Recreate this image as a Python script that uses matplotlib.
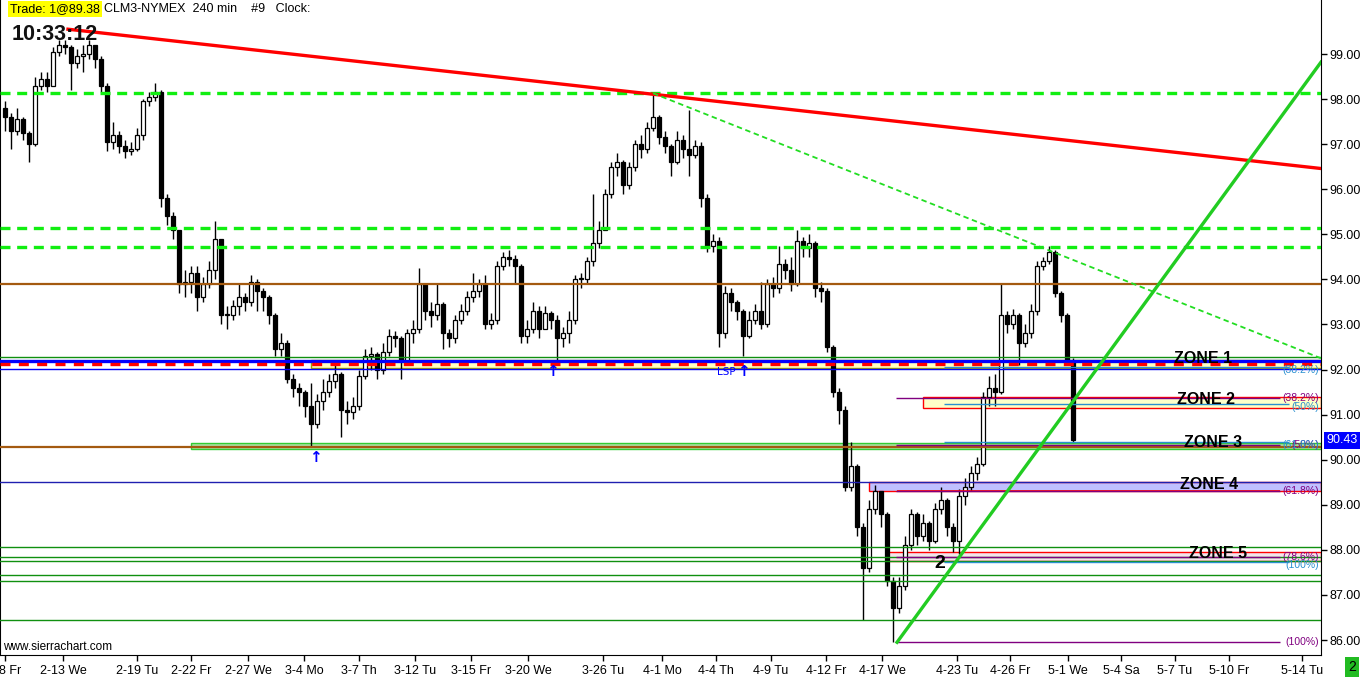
import matplotlib.pyplot as plt
from matplotlib.patches import Rectangle

# 240 min bars (one bar of this list ~ two bars of the original chart)
first_open = 97.8
closes = [97.6, 97.3, 97.55, 97.25, 97.0, 98.3, 98.45, 98.3, 99.05, 99.2,
          99.15, 98.8, 98.95, 99.0, 99.2, 98.9, 98.3, 97.05, 97.2, 96.95,
          96.85, 96.9, 97.2, 97.95, 98.05, 98.15, 95.8, 95.4, 95.1, 93.9,
          93.95, 94.15, 93.6, 93.9, 94.2, 94.9, 93.2, 93.2, 93.4, 93.6,
          93.5, 93.95, 93.75, 93.6, 93.2, 92.45, 92.6, 91.8, 91.6, 91.5,
          91.2, 90.8, 91.3, 91.5, 91.75, 91.9, 91.1, 91.05, 91.2, 91.85,
          92.3, 92.35, 92.0, 92.4, 92.75, 92.7, 92.2, 92.8, 92.9, 93.9,
          93.3, 93.2, 93.45, 92.8, 92.7, 93.1, 93.3, 93.6, 93.75, 93.9,
          93.0, 93.1, 94.3, 94.5, 94.45, 94.3, 92.75, 92.9, 93.3, 92.9,
          93.25, 93.1, 92.7, 92.8, 93.1, 94.0, 94.0, 94.4, 94.8, 95.1,
          95.9, 96.5, 96.6, 96.1, 96.5, 97.0, 96.9, 97.35, 97.6, 97.15,
          96.95, 96.6, 97.1, 96.9, 96.75, 96.95, 95.8, 94.75, 94.85, 92.8,
          93.7, 93.5, 93.3, 92.75, 93.1, 93.3, 93.0, 93.9, 93.8, 94.35,
          94.2, 93.9, 94.85, 94.7, 94.8, 93.8, 93.75, 92.5, 91.5, 91.1,
          89.4, 89.85, 88.5, 87.6, 88.9, 89.3, 88.8, 87.3, 86.7, 87.2,
          88.1, 88.8, 88.3, 88.6, 88.2, 88.9, 89.1, 88.5, 88.2, 89.2,
          89.4, 89.7, 89.9, 91.4, 91.6, 91.5, 93.2, 93.0, 93.2, 92.6,
          92.8, 93.3, 94.3, 94.4, 94.6, 93.7, 93.2, 92.2, 90.43]
highs = [97.95, 97.7, 97.8, 97.6, 97.3, 98.5, 98.6, 98.6, 99.15, 99.3,
         99.3, 99.2, 99.1, 99.2, 99.3, 99.2, 98.95, 98.35, 97.5, 97.3,
         97.1, 97.05, 97.35, 98.0, 98.15, 98.35, 98.2, 95.9, 95.5, 95.1,
         94.2, 94.3, 94.3, 94.05, 94.4, 95.3, 94.9, 93.4, 93.55, 93.9,
         93.7, 94.1, 94.0, 93.8, 93.65, 93.25, 92.8, 92.65, 91.9, 91.7,
         91.55, 91.7, 91.45, 91.8, 91.9, 92.2, 91.95, 91.3, 91.4, 92.0,
         92.45, 92.5, 92.4, 92.6, 92.9, 92.85, 92.75, 92.9, 93.1, 94.25,
         93.9, 93.5, 93.9, 93.5, 92.9, 93.2, 93.45, 93.75, 94.15, 94.0,
         94.1, 93.25, 94.4, 94.6, 94.65, 94.55, 94.35, 93.1, 93.5, 93.4,
         93.4, 93.3, 93.2, 92.95, 93.3, 94.1, 94.15, 94.5, 95.9, 95.3,
         96.0, 96.6, 96.8, 96.65, 96.6, 97.1, 97.2, 97.5, 98.1, 97.65,
         97.3, 97.0, 97.3, 97.2, 97.75, 97.1, 97.05, 95.9, 95.0, 94.95,
         93.85, 93.8, 93.55, 93.35, 93.3, 93.45, 93.95, 94.0, 94.05, 94.75,
         94.45, 94.5, 95.1, 94.95, 95.0, 94.85, 93.95, 93.8, 92.55, 91.6,
         91.2, 90.4, 89.9, 88.6, 89.1, 89.45, 89.3, 88.85, 87.4, 87.4,
         88.3, 88.9, 88.85, 88.8, 88.65, 89.05, 89.4, 89.15, 88.6, 89.35,
         89.6, 89.85, 90.05, 91.5, 91.85, 91.9, 93.9, 93.3, 93.35, 93.25,
         93.0, 93.45, 94.4, 94.5, 94.75, 94.65, 93.75, 93.25, 92.25]
lows = [97.3, 96.9, 97.2, 97.1, 96.6, 96.95, 98.2, 98.15, 98.3, 98.95,
        99.0, 98.2, 98.7, 98.6, 98.9, 98.7, 98.15, 96.85, 96.9, 96.8,
        96.7, 96.75, 96.85, 97.1, 97.85, 97.95, 95.6, 95.2, 94.9, 93.7,
        93.6, 93.7, 93.3, 93.5, 93.8, 94.0, 93.0, 92.9, 93.1, 93.2,
        93.3, 93.4, 93.3, 93.3, 93.0, 92.3, 92.3, 91.7, 91.4, 91.2,
        90.95, 90.3, 90.7, 91.1, 91.4, 91.6, 90.5, 90.8, 90.9, 91.1,
        91.8, 92.0, 91.8, 91.9, 92.3, 92.5, 91.8, 92.1, 92.6, 92.8,
        93.1, 92.95, 93.1, 92.45, 92.5, 92.6, 93.0, 93.2, 93.5, 93.6,
        92.9, 92.9, 93.0, 94.2, 94.3, 93.9, 92.6, 92.6, 92.8, 92.7,
        92.9, 92.9, 92.2, 92.5, 92.6, 93.0, 93.8, 93.9, 94.3, 94.7,
        95.1, 95.8, 96.3, 95.9, 96.0, 96.4, 96.7, 96.8, 97.3, 97.0,
        96.8, 96.3, 96.55, 96.7, 96.3, 96.7, 95.6, 94.6, 94.6, 92.5,
        92.7, 93.3, 93.1, 92.3, 92.7, 93.0, 92.9, 92.95, 93.6, 93.7,
        94.0, 93.75, 93.85, 94.5, 94.5, 93.6, 93.5, 92.4, 91.4, 90.8,
        89.3, 89.3, 88.3, 86.45, 87.5, 88.8, 88.5, 87.2, 85.95, 86.6,
        87.1, 88.0, 88.1, 88.2, 88.0, 88.15, 88.8, 88.3, 87.95, 87.9,
        89.0, 89.3, 89.55, 89.85, 91.2, 91.2, 91.45, 92.8, 92.9, 92.1,
        92.5, 92.7, 93.2, 94.2, 94.35, 93.6, 93.05, 92.1, 90.4]

date_labels = ["2-8 Fr", "2-13 We", "2-19 Tu", "2-22 Fr", "2-27 We", "3-4 Mo",
               "3-7 Th", "3-12 Tu", "3-15 Fr", "3-20 We", "3-26 Tu", "4-1 Mo",
               "4-4 Th", "4-9 Tu", "4-12 Fr", "4-17 We", "4-23 Tu", "4-26 Fr",
               "5-1 We", "5-4 Sa", "5-7 Tu", "5-10 Fr", "5-14 Tu"]
date_pos = [0, 9.67, 22, 31, 40.5, 49.83, 59, 68.33, 77.67, 87.17, 99.67,
            109.5, 118.5, 127.67, 136.83, 146.17, 158.67, 167.5, 177.17,
            186, 195, 204, 216.17]
price_ticks = [86, 87, 88, 89, 90, 91, 92, 93, 94, 95, 96, 97, 98, 99]

# levels drawn on the chart
res_dashed = [98.13, 95.13, 94.71]
brown_levels = [93.9, 90.29]
zone1 = (92.03, 92.21)
zone2 = (91.15, 91.39)
zone3 = (90.24, 90.37)
zone4 = (89.31, 89.51)
zone5 = (87.76, 87.95)
green_thin = [92.27, 88.07, 87.85, 87.76, 87.44, 87.30, 86.44]
fib_purple = [91.36, 90.33, 89.30, 87.84, 85.95]
fib_purple_txt = ["(38.2%)", "(50%)", "(61.8%)", "(78.6%)", "(100%)"]
fib_blue = [92.06, 91.24, 90.39, 87.72]
fib_blue_txt = ["(38.2%)", "(50%)", "(61.8%)", "(100%)"]

# trend lines: (x0, p0, x1, p1)
red_trend = (10.5, 99.55, 219.33, 96.46)
green_dash_trend = (108, 98.13, 219.33, 92.25)
green_up_trend = (148.67, 85.95, 219.33, 98.82)

last_price = 90.43

W, H = 1362, 677
fig = plt.figure(figsize=(W / 100, H / 100), dpi=100)
ax = fig.add_axes([0, 22 / H, 1321 / W, 655 / H])
XMIN, XMAX = -0.83, 219.33
ax.set_xlim(XMIN, XMAX)
ax.set_ylim(85.668, 100.198)

# zone bands
ax.add_patch(Rectangle((51, zone1[0]), XMAX - 51, zone1[1] - zone1[0],
                       facecolor="#ffffc0", edgecolor="#a0a000", lw=1, zorder=1))
ax.add_patch(Rectangle((31, zone3[0]), XMAX - 31, zone3[1] - zone3[0],
                       facecolor="#a8e0a0", edgecolor="#33cc33", lw=1, zorder=1))
ax.add_patch(Rectangle((153, zone2[0]), XMAX - 153, zone2[1] - zone2[0],
                       facecolor="#ffffc8", edgecolor="#ff0000", lw=1, zorder=1))
ax.add_patch(Rectangle((144, zone4[0]), XMAX - 144, zone4[1] - zone4[0],
                       facecolor="#c0c0ff", edgecolor="#ff0000", lw=1, zorder=1))
ax.add_patch(Rectangle((147.2, zone5[0]), XMAX - 147.2, zone5[1] - zone5[0],
                       facecolor="#f4e4ec", edgecolor="#ff0000", lw=1, zorder=1))

# candles
opens = [first_open] + closes[:-1]
xs = list(range(len(closes)))
ax.vlines(xs, lows, highs, color="black", lw=1, zorder=2)
for x, o, c in zip(xs, opens, closes):
    lo, hi = min(o, c), max(o, c)
    if hi - lo < 0.03:
        hi = lo + 0.03
    face = "white" if c >= o else "black"
    ax.add_patch(Rectangle((x - 0.3, lo), 0.6, hi - lo, facecolor=face,
                           edgecolor="black", lw=0.9, zorder=2))

# horizontal levels
for p in green_thin:
    ax.axhline(p, color="#109010", lw=1, zorder=3)
ax.axhline(zone4[1], color="#2020b0", lw=1, zorder=3)
for p in brown_levels:
    ax.axhline(p, color="#a45a10", lw=1.6, zorder=3)
ax.axhline(zone1[1] - 0.01, color="#0000ff", lw=2.4, zorder=3)
ax.axhline(zone1[0] - 0.01, color="#0000ff", lw=1, zorder=3)
ax.axhline((zone1[0] + zone1[1]) / 2, color="#ff0000", lw=2.4,
           dashes=(3, 2.5), zorder=3)
for p in res_dashed:
    ax.axhline(p, color="#11ee11", lw=2.4, dashes=(3, 2), zorder=3)
ax.hlines(zone4[0] - 0.01, 148.67, 212.5, color="#ff0000", lw=1.2, zorder=3)

for p, t in zip(fib_purple, fib_purple_txt):
    ax.hlines(p, 148.5, 212.5, color="#800080", lw=1, zorder=3)
    ax.text(219.0, p, t, color="#800080", fontsize=7.5, ha="right",
            va="center", family="Liberation Sans", zorder=4)
for p, t in zip(fib_blue, fib_blue_txt):
    ax.hlines(p, 156.5, 214, color="#2a90d0", lw=1, zorder=3)
    ax.text(219.0, p - 0.06, t, color="#2a90d0", fontsize=7.5, ha="right",
            va="center", family="Liberation Sans", zorder=4)

# trend lines
ax.plot(red_trend[0::2], red_trend[1::2], color="#ff0000", lw=2.4, zorder=3)
ax.plot(green_dash_trend[0::2], green_dash_trend[1::2], color="#22dd22",
        lw=1.3, dashes=(3, 2), zorder=3)
ax.plot(green_up_trend[0::2], green_up_trend[1::2], color="#22cc22",
        lw=2.4, zorder=3)

# zone labels
zone_txt = ["ZONE 1", "ZONE 2", "ZONE 3", "ZONE 4", "ZONE 5"]
zone_xy = [(199.7, 92.24), (200.2, 91.33), (201.3, 90.39), (200.7, 89.46),
           (202.2, 87.93)]
for t, (x, y) in zip(zone_txt, zone_xy):
    ax.text(x, y, t, fontsize=11.5, fontweight="bold", family="Liberation Sans",
            ha="center", va="center", zorder=5)

ax.text(155.8, 87.7, "2", fontsize=14, fontweight="bold",
        family="Liberation Sans", ha="center", va="center", zorder=5)
for x, y in [(51.7, 90.05), (91.3, 91.95), (123, 91.95)]:
    ax.text(x, y, "\u2191", color="#0000ff", fontsize=11, fontweight="bold",
            ha="center", va="center", zorder=5)
ax.text(120.3, 91.95, "LSP", color="#0000ff", fontsize=7.5, ha="center",
        va="center", zorder=5)

# axes
ax.spines["top"].set_visible(False)
ax.spines["left"].set_linewidth(1.5)
ax.yaxis.tick_right()
ax.set_yticks(price_ticks)
ax.set_yticklabels([f"{p:.2f}" for p in price_ticks], family="Liberation Sans",
                   fontsize=9)
ax.set_xticks(date_pos)
ax.set_xticklabels(date_labels, family="Liberation Sans", fontsize=9)
ax.tick_params(axis="both", length=4, width=1, direction="out", pad=2)
ax.tick_params(axis="x", pad=3)

ax.text(1.004, (last_price - 85.668) / (100.198 - 85.668), f"{last_price:.2f}",
        transform=ax.transAxes, color="white", fontsize=9,
        family="Liberation Sans", ha="left", va="center",
        bbox=dict(boxstyle="square,pad=0.2", fc="#0000ff", ec="none"), zorder=6)

# header texts
fig.text(10 / W, 1 - 9 / H, "Trade: 1@89.38", fontsize=9,
         family="Liberation Sans", va="center",
         bbox=dict(boxstyle="square,pad=0.15", fc="#ffff00", ec="none"))
fig.text(104 / W, 1 - 9 / H, "CLM3-NYMEX  240 min    #9   Clock:", fontsize=9,
         family="Liberation Sans", va="center")
fig.text(12 / W, 1 - 34 / H, "10:33:12", fontsize=15.5, fontweight="bold",
         family="Liberation Sans", va="center", color="#111111")
fig.text(3 / W, 1 - 647 / H, "www.sierrachart.com", fontsize=8.5,
         family="Liberation Sans", va="center")
fig.text(1352 / W, 1 - 667 / H, "2", fontsize=10, family="Liberation Sans",
         ha="center", va="center",
         bbox=dict(boxstyle="square,pad=0.25", fc="#22bb22", ec="none"))

fig.savefig("out.png", dpi=100)
